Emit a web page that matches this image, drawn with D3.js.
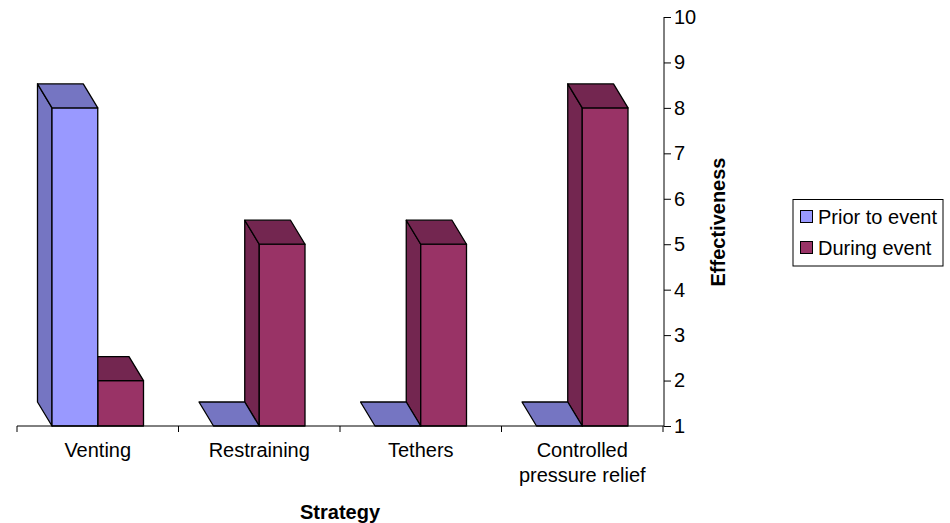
<!DOCTYPE html>
<html>
<head>
<meta charset="utf-8">
<script src="https://cdn.jsdelivr.net/npm/d3@7"></script>
<style>
  body { margin: 0; background: white; }
  text { font-family: "Liberation Sans", Arial, sans-serif; }
</style>
</head>
<body>
<svg id="chart"></svg>
<script>
// chart data
let categories = [["Venting"], ["Restraining"], ["Tethers"], ["Controlled", "pressure relief"]];
let series_names = ["Prior to event", "During event"];
let prior_values = [8, 1, 1, 1];
let during_values = [2, 5, 5, 8];
let y_ticks = [1, 2, 3, 4, 5, 6, 7, 8, 9, 10];

let width = 950, height = 523;
let depth_x = -14.5, depth_y = -24;
let front_colors = ["#9999FF", "#993366"];
let shade_colors = ["#7575C2", "#732650"];

var svg = d3.select("#chart").attr("width", width).attr("height", height);

var cat_keys = categories.map(function (c) { return c.join(" "); });

var x0 = d3.scaleBand()
    .domain(cat_keys)
    .range([17, 663]);

var x1 = d3.scaleBand()
    .domain(series_names)
    .range([0, x0.bandwidth()])
    .paddingOuter(0.765);

var y = d3.scaleLinear()
    .domain([1, 10])
    .range([426, 17]);

// bars, drawn right to left so nearer faces paint over
let bars = [];
cat_keys.forEach(function (c, i) {
    bars.push({ cat: c, s: 1, v: during_values[i] });
    bars.push({ cat: c, s: 0, v: prior_values[i] });
});
bars.sort(function (a, b) {
    return (x0(b.cat) + x1(series_names[b.s])) - (x0(a.cat) + x1(series_names[a.s]));
});

var bar_layer = svg.append("g");
bars.forEach(function (d) {
    let x_left = x0(d.cat) + x1(series_names[d.s]);
    let x_right = x_left + x1.bandwidth();
    let y_top = y(d.v);
    let y_base = y(1);
    let g = bar_layer.append("g")
        .attr("stroke", "black")
        .attr("stroke-width", 1.3)
        .attr("stroke-linejoin", "round");
    if (y_top < y_base) {
        // left side face
        g.append("polygon")
            .attr("points", [[x_left + depth_x, y_top + depth_y], [x_left, y_top], [x_left, y_base], [x_left + depth_x, y_base + depth_y]].join(" "))
            .attr("fill", shade_colors[d.s]);
        // front face
        g.append("rect")
            .attr("x", x_left).attr("y", y_top)
            .attr("width", x_right - x_left).attr("height", y_base - y_top)
            .attr("fill", front_colors[d.s]);
    }
    // top face
    g.append("polygon")
        .attr("points", [[x_left + depth_x, y_top + depth_y], [x_right + depth_x, y_top + depth_y], [x_right, y_top], [x_left, y_top]].join(" "))
        .attr("fill", shade_colors[d.s]);
});

// x axis
var x_axis = svg.append("g").attr("stroke", "black").attr("stroke-width", 1);
x_axis.append("line")
    .attr("x1", 17).attr("x2", 664)
    .attr("y1", y(1)).attr("y2", y(1));
cat_keys.concat(["end"]).forEach(function (c, i) {
    let xx = i < cat_keys.length ? x0(c) : x0.range()[1];
    x_axis.append("line")
        .attr("x1", xx).attr("x2", xx)
        .attr("y1", y(1)).attr("y2", y(1) + 6);
});

categories.forEach(function (lines, i) {
    let t = svg.append("text")
        .attr("x", x0(cat_keys[i]) + x0.bandwidth() / 2)
        .attr("y", 457)
        .attr("text-anchor", "middle")
        .attr("font-size", 20)
        .attr("fill", "black");
    lines.forEach(function (ln, j) {
        t.append("tspan")
            .attr("x", x0(cat_keys[i]) + x0.bandwidth() / 2)
            .attr("dy", j === 0 ? 0 : 25)
            .text(ln);
    });
});

// y axis on the right
var y_axis = svg.append("g")
    .attr("transform", "translate(664,0)")
    .call(d3.axisRight(y).tickValues(y_ticks).tickSize(7).tickPadding(3).tickFormat(d3.format("d")));
y_axis.select(".domain").attr("stroke", "black").attr("d", "M0," + y(10) + "V" + y(1));
y_axis.selectAll(".tick line").attr("stroke", "black");
y_axis.selectAll(".tick text")
    .attr("font-size", 20)
    .attr("font-family", "Liberation Sans, Arial, sans-serif")
    .attr("fill", "black");

// axis titles
svg.append("text")
    .attr("x", 340).attr("y", 519)
    .attr("text-anchor", "middle")
    .attr("font-size", 20).attr("font-weight", "bold")
    .text("Strategy");

svg.append("text")
    .attr("transform", "translate(725,222) rotate(-90)")
    .attr("text-anchor", "middle")
    .attr("font-size", 20).attr("font-weight", "bold")
    .text("Effectiveness");

// legend
var legend = svg.append("g");
legend.append("rect")
    .attr("x", 793).attr("y", 199.5)
    .attr("width", 150).attr("height", 66.5)
    .attr("fill", "white").attr("stroke", "black").attr("stroke-width", 1);
series_names.forEach(function (name, i) {
    let cy = 217 + i * 31;
    legend.append("rect")
        .attr("x", 800.5).attr("y", cy - 6.5)
        .attr("width", 12).attr("height", 12)
        .attr("fill", front_colors[i]).attr("stroke", "black").attr("stroke-width", 1);
    legend.append("text")
        .attr("x", 818).attr("y", cy + 7)
        .attr("font-size", 20)
        .text(name);
});
</script>
</body>
</html>
